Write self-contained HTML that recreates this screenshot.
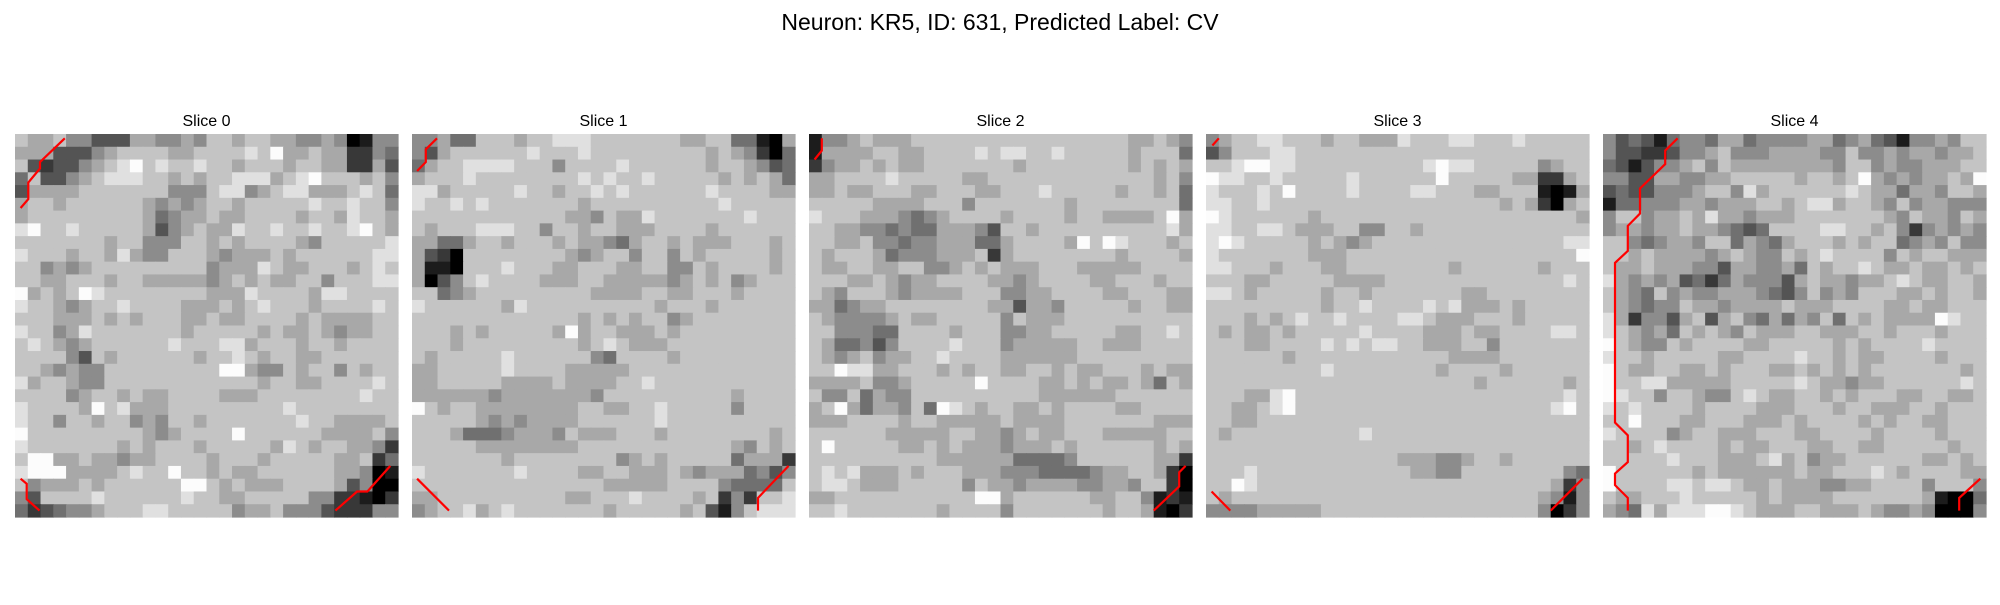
<!DOCTYPE html>
<html><head><meta charset="utf-8"><style>
body{margin:0;background:#fff;width:2000px;height:600px;overflow:hidden;font-family:"Liberation Sans",sans-serif}
</style></head><body>
<svg id="fig" width="2000" height="600" xmlns="http://www.w3.org/2000/svg">
<text x="1000" y="30" text-anchor="middle" font-family="Liberation Sans, sans-serif" font-size="23" fill="#000">Neuron: KR5, ID: 631, Predicted Label: CV</text>
</svg>
<script>
const sliceTitles = ["Slice 0","Slice 1","Slice 2","Slice 3","Slice 4"];
const slice0 = ["76675 53336 65565 77677 66556 50155","66633 35677 77667 77787 96676 62254","73233 56789 78778 77677 76776 62263","47335 67888 77676 77888 67897 77675","36666 77777 77555 78856 78866 67874","67767 77777 65656 77677 77787 78775","67777 77777 64566 76677 77677 68776","89778 77777 63567 66877 87787 78976","77777 77677 55577 67677 77657 77778","87776 77686 55777 65666 76777 77788","77565 67777 77777 56668 76677 76787","77667 77677 66666 56767 66775 77788","96767 98777 77777 66687 77768 87777","87765 67787 77766 67678 77767 77787","77766 67676 77766 76677 77676 66677","87756 87777 77767 77776 76676 56677","78765 67777 77877 78867 77677 67777","77775 37677 77776 77876 77667 77777","77656 55777 77777 79965 57677 57677","86776 55777 77777 77776 77667 77787","77775 67767 66777 76667 77777 77877","87777 69786 66777 77777 78777 77777","87757 76775 65776 77777 77877 66667","97777 77777 65677 77977 77776 66675","87777 77767 67776 77777 68767 76652","79966 76656 67777 67776 77777 66724","89996 66678 77977 67667 77777 66501","75666 76777 77799 76766 67777 63500","53777 78777 77787 76677 77755 22102","42345 56777 88777 77566 75553 22255"];
const slice1 = ["55644 77767 78887 77777 76677 44106","53677 77778 77787 77777 77767 65204","46778 88877 75777 78777 77767 76534","67778 77777 77787 87787 77776 76764","88677 77787 76778 78777 77787 77766","87787 87777 77767 77777 77778 77777","77777 77777 77665 76687 77777 78777","76777 88877 57767 76667 77767 77777","66446 77677 76766 54677 67666 77767","63207 77777 77656 77577 57677 77767","61107 77877 76677 76677 55767 77767","60357 87777 66677 66666 56767 56777","77456 77777 77776 66677 66777 67777","87777 77687 77777 77776 77767 77777","77777 77777 77767 67677 56777 77777","77767 67777 76967 76667 67777 77777","77767 77777 77767 87666 77777 77777","76777 77877 77775 47777 67777 77777","66777 77877 77666 66777 77777 77777","66777 77666 67666 67787 77777 77777","66666 65666 66665 77777 77777 67777","97677 66666 66677 66778 77777 57777","77777 65656 66677 77778 77777 77777","77764 44566 65766 67776 77777 77767","77777 66666 66677 77777 77777 65767","77777 77677 77777 75676 77777 46662","87777 77787 77766 77666 76566 64535","77777 77777 77777 66666 77775 44447","66777 77777 77667 77877 77672 52778","56778 67877 77777 67777 76731 57888"];
const slice2 = ["15567 66677 77777 77777 77777 66765","16666 77667 77787 88778 77777 67774","25667 67667 77777 76777 77777 67676","66777 78777 77667 77777 77777 77675","66766 77766 77766 77787 77776 77674","77777 66667 77577 77777 67777 77774","87776 66545 67777 67777 67766 66796","77665 54544 66653 77677 77777 77786","77667 55455 66644 67777 69798 77767","76777 64555 66672 67777 77776 77776","76677 66775 56767 66677 76666 67777","77766 76566 77776 65677 77667 77677","76577 76566 66777 55667 77766 77766","66456 67777 77776 63665 77777 67766","76555 56766 77777 57666 77777 77777","77555 44777 76777 55667 77776 67787","76445 35777 78777 56666 67766 67777","76567 56677 87777 66666 67777 77777","77988 66777 67677 66776 76677 76766","66667 55677 77797 77766 76766 76476","75574 65577 77777 77766 66667 77777","67964 66574 98767 76676 77776 67777","66677 77677 66666 76666 77777 77666","77777 76666 67766 56766 77766 66677","79777 77667 67666 56667 67777 77676","77777 77777 66666 64444 57777 77662","78786 66767 77666 55544 44566 77620","78876 66777 77576 65666 65566 57720","66777 77777 77799 67777 77667 75121","77877 77777 67777 57777 77767 76102"];
const slice3 = ["56778 87776 77666 87778 87778 77777","35777 88777 77777 77777 77777 77777","77899 88777 77777 77898 87777 75677","98877 87777 78777 77797 77776 62267","87778 79777 78777 78877 76677 71016","88778 77777 77777 77777 77767 62067","98777 77767 77777 77777 77777 77776","88778 87666 77557 76777 77777 77777","89877 77767 65677 77777 77777 77788","87777 77766 67777 77777 77777 77779","88777 67776 67777 77776 77777 76777","77766 77777 66667 77777 77777 77787","88767 77776 77677 77777 66777 77777","77777 77776 77877 77878 66676 77777","77767 67877 87777 88766 67776 77777","76766 76777 77877 77666 76677 77887","77766 77778 78788 77666 77577 77777","77777 76777 77777 77776 66677 77777","77777 77778 77777 77767 77767 77777","77777 77777 77777 77777 76777 77767","77766 89777 77777 77777 77777 77787","77667 89777 77777 77777 77777 77897","77667 77777 77777 77777 77777 77777","76777 77777 77877 77777 77777 77777","77777 77777 77777 77777 77777 77777","77777 77777 77777 66655 67767 77777","77787 77777 77777 76655 77777 77754","77987 77777 77777 77777 77777 77625","76777 77777 77777 77777 77777 76515","55556 66667 77777 77777 77777 75025"];
const slice4 = ["53431 45546 64555 56645 64315 56577","53322 35567 55566 66557 55656 65667","43135 56757 66666 66657 75655 66677","55336 65566 77777 67767 96565 66769","34335 55677 58677 77778 76646 65776","14455 56656 66776 78867 76575 66555","57756 67686 65666 77777 77657 66576","56656 67665 43477 77887 76752 56565","77545 66577 46546 77767 67745 65755","77676 66656 76557 67877 77576 77666","76676 66553 66556 47677 87667 66767","86565 63424 65553 67665 66787 66776","76547 56556 66543 57565 77766 76776","76545 57665 66667 66677 77667 66777","86255 36736 75464 65747 67666 69877","87656 47676 57666 77666 77677 76777","97655 76777 76677 77767 67777 87777","87767 77776 67777 87767 66777 76777","97667 76676 77766 76767 67777 77767","97788 66666 77777 87665 66777 77787","98775 77655 78766 77676 77766 77667","87877 77677 77666 77767 76667 76777","77977 76677 76667 67777 67677 66777","87777 56776 66777 66777 76777 76777","77678 77776 76677 76677 66777 77677","77777 87776 66786 75667 77777 66767","97777 77676 66666 76677 78767 77766","97777 88788 76676 66556 67777 57775","76677 78777 77676 66677 77777 61004","65486 88899 87666 77666 76556 50005"];
const slices = [slice0, slice1, slice2, slice3, slice4];
// red contour paths in grid units [col,row]
const contours0 = [[[3.9,0.34],[1.96,2.2],[1.96,2.7],[1.04,3.8],[1.04,5.1],[0.44,5.8]],[[0.44,27],[0.92,27.4],[0.92,28.6],[1.92,29.5]],[[29.4,26],[27.6,28],[26.8,28],[25.1,29.5]]];
const contours1 = [[[1.96,0.34],[1.08,1.2],[1.08,2.2],[0.4,2.9]],[[0.4,27],[2.9,29.5]],[[29.5,26],[27.1,28.5],[27.1,29.5]]];
const contours2 = [[[1,0.34],[1,1.3],[0.44,2]],[[29.5,26],[29,26.5],[29,27.6],[27,29.5]]];
const contours3 = [[[1,0.34],[0.5,0.9]],[[0.44,28],[1.9,29.5]],[[29.5,27],[27,29.5]]];
const contours4 = [[[5.84,0.34],[4.87,1.3],[4.87,2.36],[2.9,4.27],[2.9,6.23],[1.94,7.2],[1.94,9.16],[0.94,10.1],[0.94,22.6],[1.94,23.6],[1.94,25.7],[0.94,26.6],[0.94,27.5],[1.94,28.5],[1.94,29.5]],[[29.55,27],[27.9,28.5],[27.9,29.5]]];
const contours = [contours0, contours1, contours2, contours3, contours4];

const NS = "http://www.w3.org/2000/svg";
const svg = document.getElementById('fig');
const panelX0 = 15, panelStep = 397, panelY0 = 134, panelSize = 383, N = 30;
const cell = panelSize / N;
function xPos(p, c){ return panelX0 + p*panelStep + c*cell; }
function yPos(r){ return panelY0 + r*cell; }
function grayOf(d){ const v = Math.min(255, Math.round(d*28)); return `rgb(${v},${v},${v})`; }

slices.forEach((rows, p) => {
  const g = document.createElementNS(NS, 'g');
  
  
  svg.appendChild(g);
  const t = document.createElementNS(NS, 'text');
  
  
  t.setAttribute('x', xPos(p, N/2));
  t.setAttribute('y', 126);
  t.setAttribute('text-anchor', 'middle');
  t.setAttribute('font-family', 'Liberation Sans, sans-serif');
  t.setAttribute('font-size', '16');
  t.textContent = sliceTitles[p];
  g.appendChild(t);
  rows.forEach((rowStr, r) => {
    const row = rowStr.replace(/ /g, '');
    for (let c = 0; c < N; c++) {
      const d = parseInt(row[c] || '7', 10);
      const rect = document.createElementNS(NS, 'rect');
      
      
      rect.setAttribute('x', xPos(p, c).toFixed(2));
      rect.setAttribute('y', yPos(r).toFixed(2));
      rect.setAttribute('width', (cell + 0.6).toFixed(2));
      rect.setAttribute('height', (cell + 0.6).toFixed(2));
      rect.setAttribute('fill', grayOf(d));
      g.appendChild(rect);
    }
  });
  contours[p].forEach(pts => {
    const pl = document.createElementNS(NS, 'polyline');
    
    
    pl.setAttribute('points', pts.map(q => xPos(p, q[0]).toFixed(1) + ',' + yPos(q[1]).toFixed(1)).join(' '));
    pl.setAttribute('fill', 'none');
    pl.setAttribute('stroke', '#ff0000');
    pl.setAttribute('stroke-width', '2.2');
    g.appendChild(pl);
  });
});
</script>
</body></html>
